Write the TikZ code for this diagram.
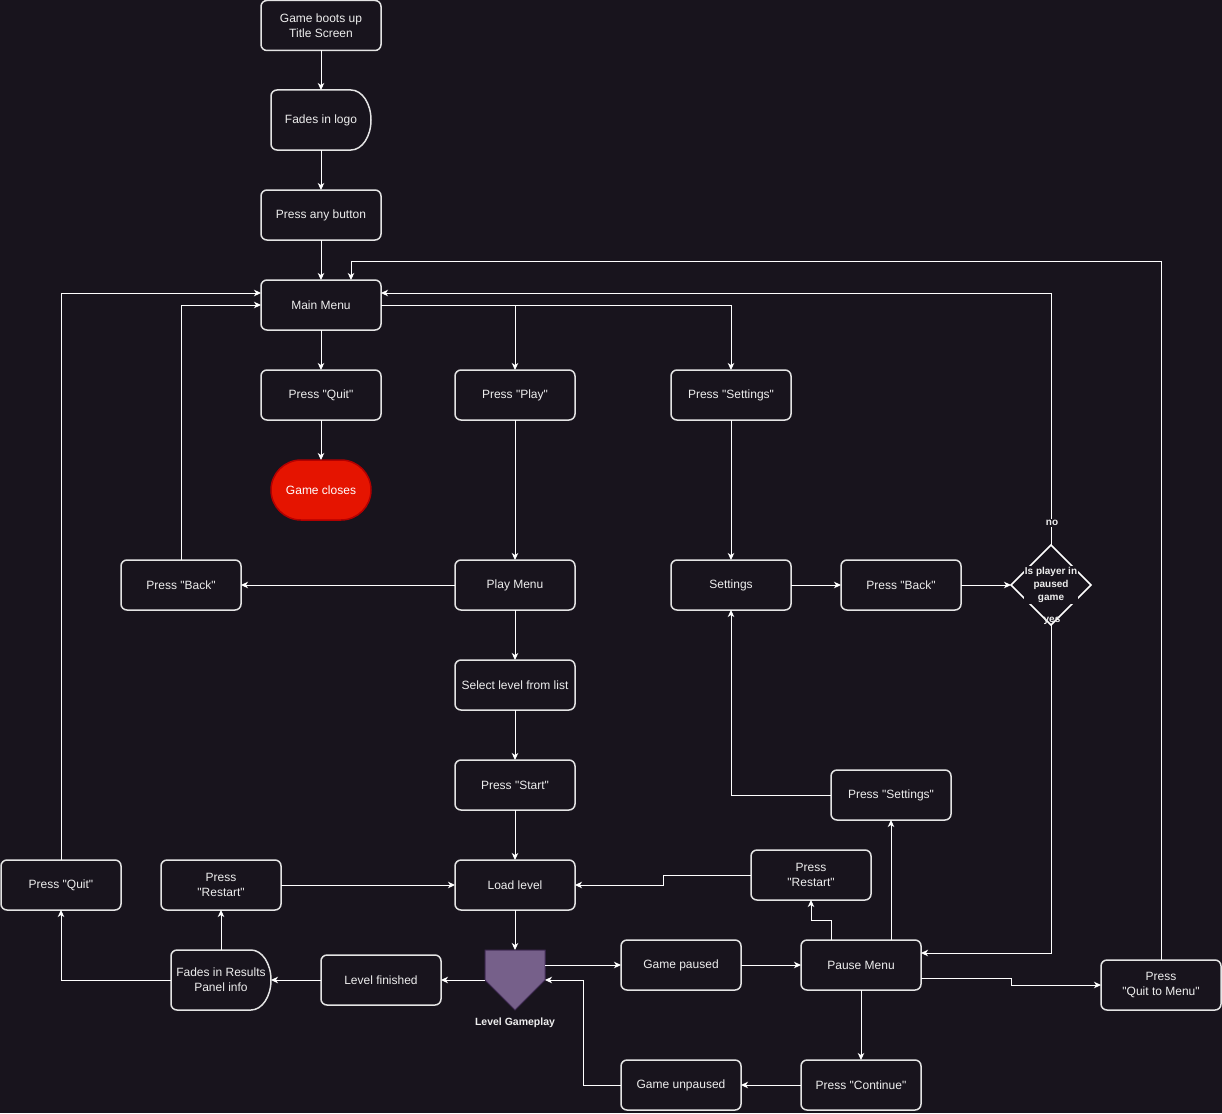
\documentclass[tikz,border=0pt]{standalone}
\usepackage{fontspec}
\setmainfont{Liberation Sans}[Ligatures=TeXOff]
\usetikzlibrary{arrows.meta,shapes.geometric,calc}
\definecolor{bg}{RGB}{24,20,29}
\definecolor{boxline}{RGB}{228,228,228}
\definecolor{txt}{RGB}{238,238,238}
\definecolor{closefill}{RGB}{229,20,0}
\definecolor{closeline}{RGB}{178,0,0}
\definecolor{gpfill}{RGB}{118,96,138}
\definecolor{gpline}{RGB}{67,45,87}
\newcommand\delayshape[1]{%
  \draw[boxline,line width=1.5pt,fill=bg] ($(#1.north east)+(-20,0)$)
    .. controls ($(#1.north east)+(-8.95,0)$) and ($(#1.east)+(0,-16.57)$) .. (#1.east)
    .. controls ($(#1.east)+(0,16.57)$) and ($(#1.south east)+(-8.95,0)$) .. ($(#1.south east)+(-20,0)$)
    [rounded corners=6pt] -- (#1.south west) -- (#1.north west) -- ($(#1.north east)+(-20,0)$);}
\begin{document}
\begin{tikzpicture}[x=1pt,y=-1pt,
  box/.style={draw=boxline,line width=1.5pt,rounded corners=6pt,fill=bg,
    minimum width=120pt,minimum height=50pt,inner sep=0pt,outer sep=0pt,
    text=txt,font=\fontsize{12}{15}\selectfont,align=center},
  delaybox/.style={minimum width=100pt,minimum height=60pt,inner sep=0pt,outer sep=0pt,
    text=txt,font=\fontsize{12}{15}\selectfont,align=center},
  conn/.style={draw=white,line width=1pt,-{Stealth[length=7pt,width=6.5pt,inset=2pt]}},
  lbl/.style={text=txt,font=\bfseries\fontsize{10}{13}\selectfont,align=center,fill=bg,inner sep=1pt}
]
\fill[bg] (0,0) rectangle (1222,1113);
\useasboundingbox (0,0) rectangle (1222,1113);

% delay-shaped nodes (text only, shape drawn by macro)
\node[delaybox] (logo) at (321,120) {};
\delayshape{logo}
\node[delaybox] at (logo) {Fades in logo};
\node[delaybox] (res) at (221,980) {};
\delayshape{res}
\node[delaybox] at (res) {Fades in Results\\Panel info};

% boxes
\node[box] (boot) at (321,25.5) {Game boots up\\Title Screen};
\node[box] (anyb) at (321,215) {Press any button};
\node[box] (main) at (321,305) {Main Menu};
\node[box] (quit) at (321,395) {Press "Quit"};
\node[box] (play) at (515,395) {Press "Play"};
\node[box] (setb) at (731,395) {Press "Settings"};
\node[draw=closeline,line width=1.5pt,fill=closefill,rounded corners=30pt,
  minimum width=100pt,minimum height=60pt,inner sep=0pt,outer sep=0pt,
  text=white,font=\fontsize{12}{15}\selectfont] (close) at (321,490) {Game closes};
\node[box] (back1) at (181,585) {Press "Back"};
\node[box] (pmenu) at (515,585) {Play Menu};
\node[box] (sett) at (731,585) {Settings};
\node[box] (back2) at (901,585) {Press "Back"};
\node[diamond,draw=white,line width=1.5pt,minimum width=80pt,minimum height=80pt,
  inner sep=0pt,outer sep=0pt] (dia) at (1051,585) {};
\node[lbl,font=\bfseries\fontsize{10}{13}\selectfont] at (1051,585) {Is player in\\paused\\game};
\node[box] (sel) at (515,685) {Select level from list};
\node[box] (start) at (515,785) {Press "Start"};
\node[box] (set2) at (891,795) {Press "Settings"};
\node[box] (load) at (515,885) {Load level};
\node[box] (rest2) at (811,875) {Press\\"Restart"};
\node[box] (quit2) at (61,885) {Press "Quit"};
\node[box] (rest1) at (221,885) {Press\\"Restart"};
\node[box] (lf) at (381,980) {Level finished};
\node[minimum width=60pt,minimum height=60pt,inner sep=0pt,outer sep=0pt] (gp) at (515,980) {};
\fill[gpfill,draw=gpline,line width=1pt] (gp.north west) -- (gp.north east) -- (gp.east) -- (gp.south) -- (gp.west) -- cycle;
\node[text=txt,font=\bfseries\fontsize{10.5}{13}\selectfont] (gpl) at (515,1023) {Level Gameplay};
\node[box] (gpaused) at (681,965) {Game paused};
\node[box] (pause) at (861,965) {Pause Menu};
\node[box] (qtm) at (1161,985) {Press\\"Quit to Menu"};
\node[box] (cont) at (861,1085) {Press "Continue"};
\node[box] (unp) at (681,1085) {Game unpaused};

% connectors
\draw[conn] (boot) -- (logo);
\draw[conn] (logo) -- (anyb);
\draw[conn] (anyb) -- (main);
\draw[conn] (main) -- (quit);
\draw[conn] (quit) -- (close);
\draw[conn] (main.east) -| (play.north);
\draw[conn] (main.east) -| (setb.north);
\draw[conn] (play) -- (pmenu);
\draw[conn] (setb) -- (sett);
\draw[conn] (pmenu) -- (back1);
\draw[conn] (back1.north) |- (main.west);
\draw[conn] (quit2.north) |- ($(main.west)+(0,-12)$);
\draw[conn] (pmenu) -- (sel);
\draw[conn] (sel) -- (start);
\draw[conn] (start) -- (load);
\draw[conn] (sett) -- (back2);
\draw[conn] (back2) -- (dia.west);
\draw[conn] (dia.north) |- ($(main.east)+(0,-12)$);
\draw[conn] (dia.south) |- ($(pause.east)+(0,-12)$);
\draw[conn] (qtm.north) |- ++(-810,-699) -- ($(main.north)+(30,0)$);
\draw[conn] (load) -- (gp.north);
\draw[conn] ($(gp.north east)+(0,15)$) -- (gpaused.west);
\draw[conn] (gpaused) -- (pause);
\draw[conn] ($(pause.east)+(0,13)$) -- ++(90,0) |- (qtm.west);
\draw[conn] (pause) -- (cont);
\draw[conn] (cont) -- (unp);
\draw[conn] (unp.west) -- ++(-38,0) |- (gp.east);
\draw[conn] ($(pause.north)+(-30,0)$) -- ++(0,-20) -| (rest2.south);
\draw[conn] ($(pause.north)+(30,0)$) -- (set2.south);
\draw[conn] (set2.west) -| (sett.south);
\draw[conn] (rest2.west) -- ++(-88,0) |- (load.east);
\draw[conn] (rest1) -- (load);
\draw[conn] (gp.west) -- (lf);
\draw[conn] (lf) -- (res.east);
\draw[conn] (res.north) -- (rest1.south);
\draw[conn] (res.west) -| (quit2.south);

% labels on decision
\node[lbl] (nolbl) at (1052,523) {no};
\node[lbl,fill=none] (yeslbl) at (1052,621) {yes};
\end{tikzpicture}
\end{document}
